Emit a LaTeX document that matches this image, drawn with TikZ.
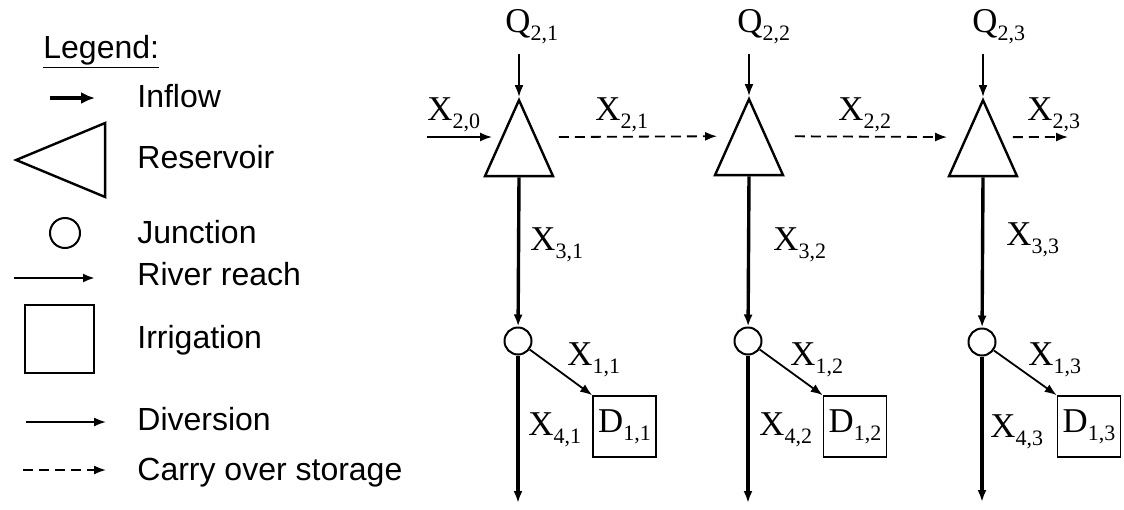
\documentclass[tikz,border=0pt]{standalone}
\usepackage{fontspec}
\setmainfont{Liberation Serif}
\newfontfamily\legendfont{Liberation Sans}
\usetikzlibrary{arrows.meta,shapes.geometric}

\newcommand{\idx}[2]{#1\raisebox{-4pt}{\fontsize{11}{12}\selectfont #2}}

\tikzset{
  lbl/.style={inner sep=0pt, anchor=base west, font=\fontsize{17.4}{20}\selectfont},
  legtext/.style={inner sep=0pt, anchor=base west, font=\legendfont\fontsize{16}{19}\selectfont},
  reservoir/.style={draw, line width=1.2pt, shape=isosceles triangle,
    isosceles triangle stretches, inner sep=0pt},
  junction/.style={draw, circle, line width=1pt, minimum size=13.5pt, inner sep=0pt},
  irrig/.style={draw, line width=0.8pt, minimum width=31.5pt, minimum height=30.5pt,
    inner sep=0pt, font=\fontsize{17.4}{20}\selectfont},
  tip/.style={-{Latex[length=6pt,width=4.5pt]}},
  reach/.style={tip, line width=1.7pt},
  inflow/.style={tip, line width=0.9pt},
  divert/.style={tip, line width=0.9pt},
  carry/.style={tip, line width=0.9pt, dash pattern=on 5pt off 3pt}
}

\begin{document}
\begin{tikzpicture}[x=0.5pt, y=-0.5pt]
  \useasboundingbox (0,0) rectangle (1124,509);

  % legend
  \node[legtext] (leg) at (43,58) {\underline{Legend:}};
  \node[legtext] (tinflow) at (137,107) {Inflow};
  \node[legtext] (tres) at (137,168) {Reservoir};
  \node[legtext] (tjun) at (137,243) {Junction};
  \node[legtext] (treach) at (137,285) {River reach};
  \node[legtext] (tirr) at (137,348) {Irrigation};
  \node[legtext] (tdiv) at (137,430) {Diversion};
  \node[legtext] (tcarry) at (137,480) {Carry over storage};

  \draw[-{Latex[length=7pt,width=6pt]}, line width=2.4pt] (50,98) -- (95,98);
  \node[reservoir, shape border rotate=180, minimum width=37pt, minimum height=44.5pt,
    anchor=apex] (lres) at (13,160) {};
  \node[junction, minimum size=15pt] (ljun) at (65,233) {};
  \draw[reach, line width=1.4pt] (14,278) -- (95,278);
  \node[irrig, minimum width=34.5pt, minimum height=34pt] (lirr) at (59.5,339) {};
  \draw[divert] (26,422) -- (106,422);
  \draw[carry] (23,470) -- (106,470);

  % reservoirs
  \node[reservoir, shape border rotate=90, minimum width=34pt, minimum height=38pt,
    anchor=apex] (t1) at (519,97) {};
  \node[reservoir, shape border rotate=90, minimum width=34pt, minimum height=38pt,
    anchor=apex] (t2) at (749,96) {};
  \node[reservoir, shape border rotate=90, minimum width=34pt, minimum height=38pt,
    anchor=apex] (t3) at (983,97) {};

  % junctions and irrigation
  \node[junction] (j1) at (518,341) {};
  \node[junction] (j2) at (748,341) {};
  \node[junction] (j3) at (982,342) {};
  \node[irrig] (d1) at (624.5,426.5) {\idx{D}{1,1}};
  \node[irrig] (d2) at (855,426.5) {\idx{D}{1,2}};
  \node[irrig] (d3) at (1089,426.5) {\idx{D}{1,3}};

  % labels
  \node[lbl] (q1) at (505,32) {\idx{Q}{2,1}};
  \node[lbl] (q2) at (737,32) {\idx{Q}{2,2}};
  \node[lbl] (q3) at (972,32) {\idx{Q}{2,3}};
  \node[lbl] (x20) at (427,120) {\idx{X}{2,0}};
  \node[lbl] (x21) at (595,120) {\idx{X}{2,1}};
  \node[lbl] (x22) at (838,120) {\idx{X}{2,2}};
  \node[lbl] (x23) at (1027,120) {\idx{X}{2,3}};
  \node[lbl] (x31) at (530,250) {\idx{X}{3,1}};
  \node[lbl] (x32) at (773,250) {\idx{X}{3,2}};
  \node[lbl] (x33) at (1006,245) {\idx{X}{3,3}};
  \node[lbl] (x11) at (567,365) {\idx{X}{1,1}};
  \node[lbl] (x12) at (790,365) {\idx{X}{1,2}};
  \node[lbl] (x13) at (1028,365) {\idx{X}{1,3}};
  \node[lbl] (x41) at (528,435) {\idx{X}{4,1}};
  \node[lbl] (x42) at (759,435) {\idx{X}{4,2}};
  \node[lbl] (x43) at (990,437) {\idx{X}{4,3}};

  % loose ends
  \coordinate (in0) at (427,137);
  \coordinate (out3) at (1068,137);
  \coordinate (e1) at (518,503);
  \coordinate (e2) at (748,503);
  \coordinate (e3) at (982,502);

  % inflows
  \draw[inflow, shorten <=5pt] (q1.south -| t1.apex) -- (t1.apex);
  \draw[inflow, shorten <=5pt] (q2.south -| t2.apex) -- (t2.apex);
  \draw[inflow, shorten <=5pt] (q3.south -| t3.apex) -- (t3.apex);
  \draw[inflow, shorten >=4.5pt] (in0) -- (in0 -| t1.left side);

  % carry over storage
  \draw[carry, shorten <=11pt, shorten >=7pt] (t1.right side) -- (t2.left side);
  \draw[carry, shorten <=14pt, shorten >=9pt] (t2.right side) -- (t3.left side);
  \draw[carry, shorten <=6pt] (t3.right side) -- (out3);

  % river reaches
  \draw[reach] (t1.lower side) -- (j1);
  \draw[reach] (t2.lower side) -- (j2);
  \draw[reach] (t3.lower side) -- (j3);
  \draw[reach] (j1) -- (e1);
  \draw[reach] (j2) -- (e2);
  \draw[reach] (j3) -- (e3);

  % diversions
  \draw[divert] (j1) -- (d1.north west);
  \draw[divert] (j2) -- (d2.north west);
  \draw[divert] (j3) -- (d3.north west);
\end{tikzpicture}
\end{document}
